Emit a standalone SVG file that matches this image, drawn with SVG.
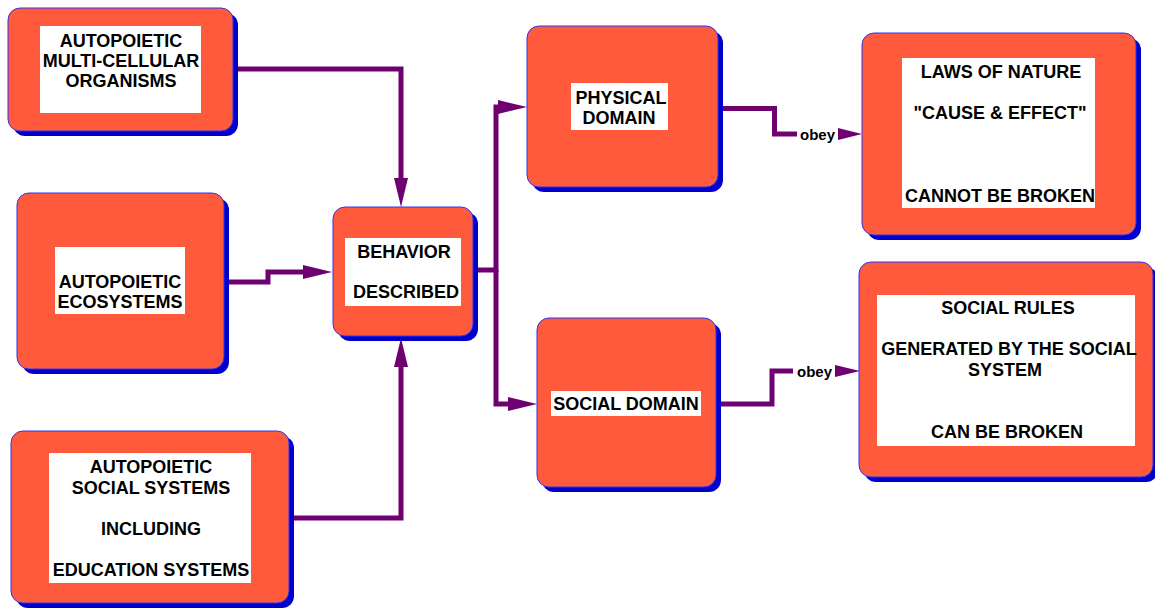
<svg xmlns="http://www.w3.org/2000/svg" width="1155" height="608" viewBox="0 0 1155 608">
<defs>
<style>
.sh{fill:#0000CC;}
.bx{fill:#FF5A3C;stroke:#3333EE;stroke-width:1;}
.wb{fill:#FFFFFF;}
.t{font-family:"Liberation Sans",Arial,sans-serif;font-weight:bold;font-size:18px;fill:#000;text-anchor:middle;}
.ob{font-family:"Liberation Sans",Arial,sans-serif;font-weight:bold;font-size:15px;fill:#000;}
.ln{fill:none;stroke:#6E0070;stroke-width:5;stroke-linejoin:miter;}
.ah{fill:#6E0070;}
</style>
<marker id="arr" markerUnits="userSpaceOnUse" markerWidth="30" markerHeight="14" refX="0" refY="7" orient="auto" viewBox="0 0 30 14">
<path d="M0,0 L29,7 L0,14 z" fill="#6E0070"/>
</marker>
</defs>
<rect width="1155" height="608" fill="#FFFFFF"/>

<g id="connectors">
<path class="ln" d="M233,69 H401 V178" marker-end="url(#arr)"/>
<path class="ln" d="M224,282 H268 V272 H303" marker-end="url(#arr)"/>
<path class="ln" d="M289,518 H401 V367" marker-end="url(#arr)"/>
<path class="ln" d="M473,270 H496 V107 H498" marker-end="url(#arr)"/>
<path class="ln" d="M496,270 V404 H508" marker-end="url(#arr)"/>
<path class="ln" d="M718,108.5 H774.5 V134 H797"/>
<polygon class="ah" points="838,128 862,134 838,140"/>
<text class="ob" x="800" y="140">obey</text>
<path class="ln" d="M716,404 H772 V371 H793"/>
<polygon class="ah" points="835,365 860,371 835,377"/>
<text class="ob" x="797" y="377">obey</text>
</g>

<g id="node-organisms">
<rect class="sh" x="13" y="13" width="225" height="123" rx="12"/>
<rect class="bx" x="8" y="8" width="225" height="123" rx="12"/>
<rect class="wb" x="40" y="26" width="161" height="87"/>
<text class="t" x="121" y="47">AUTOPOIETIC</text>
<text class="t" x="121" y="67">MULTI-CELLULAR</text>
<text class="t" x="121" y="87">ORGANISMS</text>
</g>

<g id="node-ecosystems">
<rect class="sh" x="22" y="198" width="207" height="176" rx="12"/>
<rect class="bx" x="17" y="193" width="207" height="176" rx="12"/>
<rect class="wb" x="55" y="247" width="130" height="67"/>
<text class="t" x="120" y="288">AUTOPOIETIC</text>
<text class="t" x="120" y="308">ECOSYSTEMS</text>
</g>

<g id="node-social-systems">
<rect class="sh" x="16" y="436" width="278" height="172" rx="12"/>
<rect class="bx" x="11" y="431" width="278" height="172" rx="12"/>
<rect class="wb" x="49" y="453" width="202" height="130"/>
<text class="t" x="151" y="473">AUTOPOIETIC</text>
<text class="t" x="151" y="494">SOCIAL SYSTEMS</text>
<text class="t" x="151" y="535">INCLUDING</text>
<text class="t" x="151" y="576">EDUCATION SYSTEMS</text>
</g>

<g id="node-behavior">
<rect class="sh" x="338" y="212" width="140" height="129" rx="12"/>
<rect class="bx" x="333" y="207" width="140" height="129" rx="12"/>
<rect class="wb" x="345" y="238" width="116" height="68"/>
<text class="t" x="404" y="258">BEHAVIOR</text>
<text class="t" x="406" y="298">DESCRIBED</text>
</g>

<g id="node-physical">
<rect class="sh" x="532" y="31" width="191" height="161" rx="12"/>
<rect class="bx" x="527" y="26" width="191" height="161" rx="12"/>
<rect class="wb" x="571" y="83" width="97" height="47"/>
<text class="t" x="621" y="104">PHYSICAL</text>
<text class="t" x="619" y="124">DOMAIN</text>
</g>

<g id="node-social-domain">
<rect class="sh" x="542" y="323" width="179" height="169" rx="12"/>
<rect class="bx" x="537" y="318" width="179" height="169" rx="12"/>
<rect class="wb" x="551" y="391" width="150" height="25"/>
<text class="t" x="626" y="410">SOCIAL DOMAIN</text>
</g>

<g id="node-laws">
<rect class="sh" x="867" y="38" width="274" height="202" rx="12"/>
<rect class="bx" x="862" y="33" width="274" height="202" rx="12"/>
<rect class="wb" x="902" y="58" width="193" height="150"/>
<text class="t" x="1001" y="78">LAWS OF NATURE</text>
<text class="t" x="1000" y="119">"CAUSE &amp; EFFECT"</text>
<text class="t" x="1000" y="202">CANNOT BE BROKEN</text>
</g>

<g id="node-social-rules">
<rect class="sh" x="864" y="267" width="294" height="215" rx="12"/>
<rect class="bx" x="859" y="262" width="294" height="215" rx="12"/>
<rect class="wb" x="877" y="295" width="258" height="151"/>
<text class="t" x="1008" y="314">SOCIAL RULES</text>
<text class="t" x="1009" y="355">GENERATED BY THE SOCIAL</text>
<text class="t" x="1005" y="376">SYSTEM</text>
<text class="t" x="1007" y="438">CAN BE BROKEN</text>
</g>
</svg>
